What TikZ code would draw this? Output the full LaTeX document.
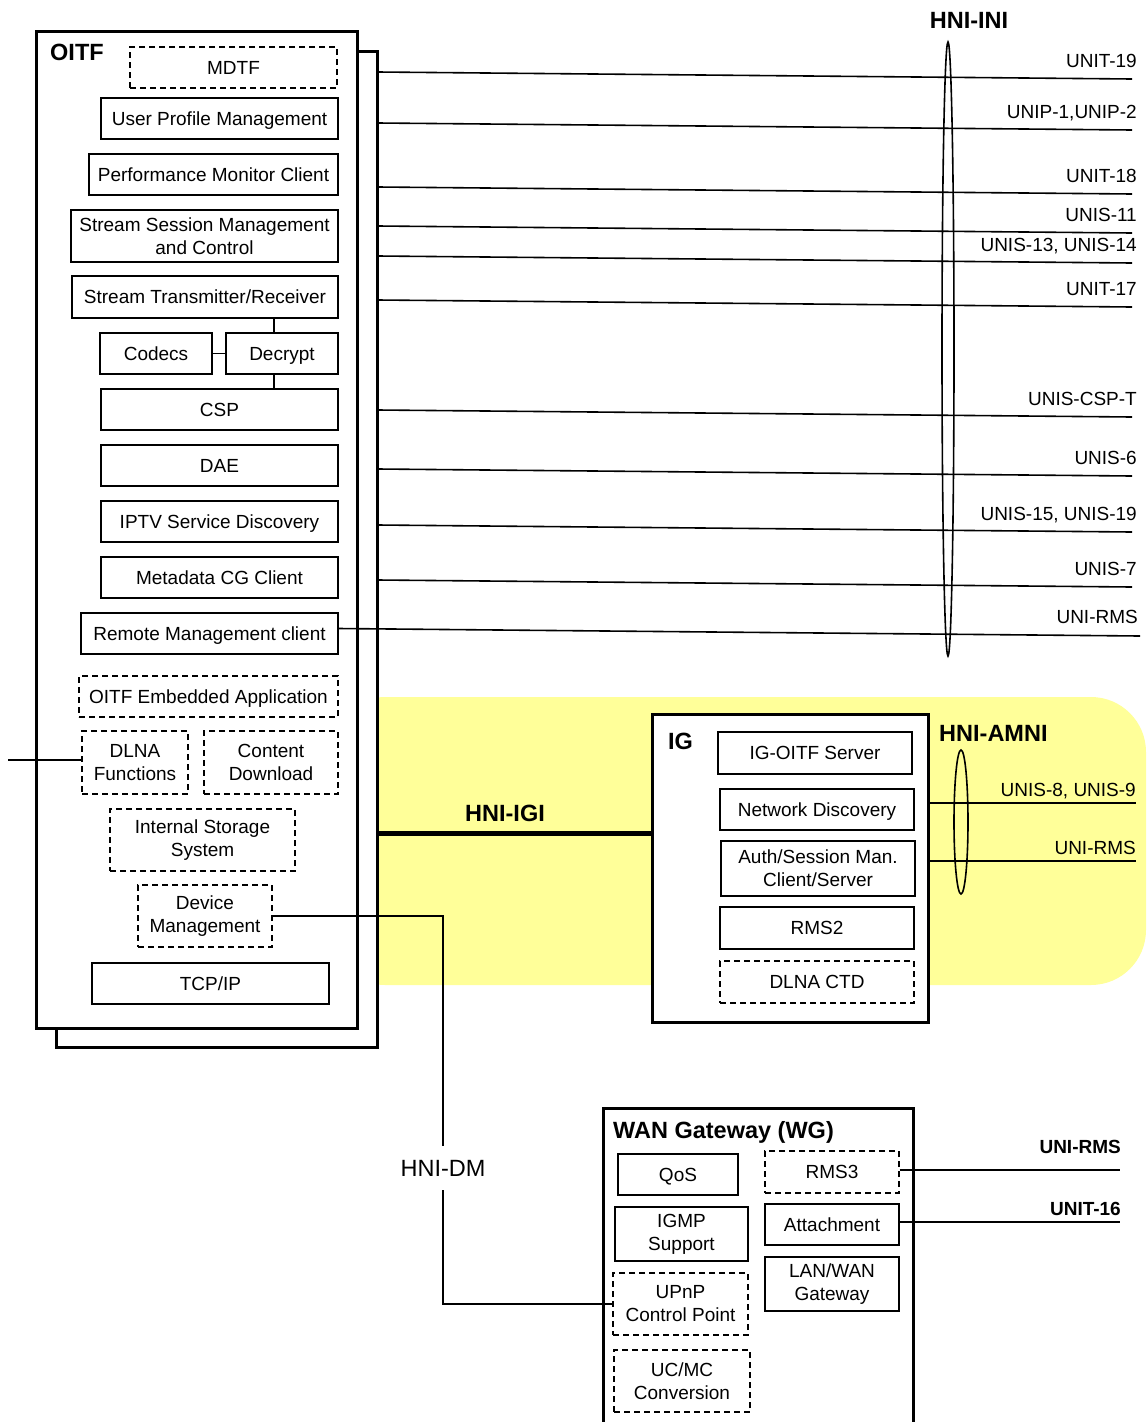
\documentclass[tikz,border=0pt]{standalone}
\usepackage{fontspec}
\setmainfont{Liberation Sans}
\usetikzlibrary{positioning, shapes.geometric}
\definecolor{hniyellow}{RGB}{255,255,153}

\begin{document}
\begin{tikzpicture}[x=1pt, y=-1pt,
    box/.style={draw, line width=1.2pt, fill=white, inner sep=0pt, align=center, font=\fontsize{19}{23}\selectfont,
        text height=13.6pt, text depth=0pt},
    dbox/.style={box, dash pattern=on 6pt off 4pt},
    ml/.style={text height={}, text depth={}},
    wh/.style 2 args={minimum width=#1pt, minimum height=#2pt},
    frame/.style={draw, line width=3pt, fill=white, inner sep=0pt},
    title/.style={inner sep=0pt, font=\fontsize{23.5}{28}\selectfont\bfseries},
    iface/.style={line width=1.6pt},
    ilabel/.style={inner sep=0pt, anchor=base east, font=\fontsize{19}{23}\selectfont}]
    \clip (0,0) rectangle (1148,1422);

    % Yellow home network area behind the IG
    \fill[hniyellow, rounded corners=55pt] (330,697) rectangle (1146,985);

    % OITF frames
    \node[frame, wh={321}{996}] (oitfb) at (216.5,549) {};
    \node[frame, wh={321}{997}] (oitf) at (196.5,529.5) {};
    \node[title, anchor=base west] (oitft) at (50,60) {OITF};

    % OITF functions
    \node[dbox, wh={207}{41}] (mdtf) at (233.5,67.5) {MDTF};
    \node[box, wh={237}{41}] (upm) at (219.5,118.5) {User Profile Management};
    \node[box, wh={249}{41}] (pmc) at (213.5,174.5) {Performance Monitor Client};
    \node[box, ml, wh={267}{52}] (ssm) at (204.5,236) {Stream Session Management\\and Control};
    \node[box, wh={266}{42}] (str) at (205,297) {Stream Transmitter/Receiver};
    \node[box, line width=1.8pt, wh={112}{41}] (cod) at (156,353.5) {Codecs};
    \node[box, line width=1.8pt, wh={112}{41}] (dec) at (282,353.5) {Decrypt};
    \node[box, wh={237}{41}] (csp) at (219.5,409.5) {CSP};
    \node[box, wh={237}{41}] (dae) at (219.5,465.5) {DAE};
    \node[box, wh={237}{41}] (iptv) at (219.5,521.5) {IPTV Service Discovery};
    \node[box, wh={237}{41}] (meta) at (219.5,577.5) {Metadata CG Client};
    \node[box, wh={257}{41}] (rmc) at (209.5,633.5) {Remote Management client};
    \node[dbox, wh={259}{41}] (oea) at (208.5,696.5) {OITF Embedded Application};
    \node[dbox, ml, wh={106}{63}] (dlna) at (135,762.5) {DLNA\\Functions};
    \node[dbox, ml, wh={134}{63}] (cdl) at (271,762.5) {Content\\Download};
    \node[dbox, ml, wh={185}{62}] (iss) at (202.5,840) {Internal Storage\\System};
    \node[dbox, ml, wh={134}{62}] (dm) at (205,916) {Device\\Management};
    \node[box, wh={237}{41}] (tcp) at (210.5,983.5) {TCP/IP};

    % Links inside the OITF
    \draw[line width=1.2pt] (cod) -- (dec);
    \draw[line width=1.2pt] ([xshift=-8pt]dec.north) -- ([xshift=-8pt]dec.north |- str.south);
    \draw[line width=1.2pt] ([xshift=-8pt]dec.south) -- ([xshift=-8pt]dec.south |- csp.north);
    \coordinate (dlnaext) at (8,760);
    \draw[line width=1.2pt] (dlnaext) -- (dlnaext -| dlna.west);

    % HNI-INI interfaces
    \foreach \y/\lab [count=\i] in {72/UNIT-19, 123/{UNIP-1,UNIP-2}, 187/UNIT-18, 226/UNIS-11,
        256/{UNIS-13, UNIS-14}, 300/UNIT-17, 410/UNIS-CSP-T, 469/UNIS-6,
        525/{UNIS-15, UNIS-19}, 580/UNIS-7} {
        \coordinate (u\i) at (378,\y);
        \coordinate (v\i) at (1132,\y+7);
        \draw[iface] (u\i) -- (v\i);
        \node[ilabel] (lab\i) at (1137,\y-5) {\lab};
    }
    \coordinate (v11) at (1140,636);
    \draw[iface] ([yshift=5pt]rmc.east) -- (v11);
    \node[ilabel] (lab11) at (1138,623) {UNI-RMS};
    \node[draw, ellipse, line width=1.6pt, inner sep=0pt, wh={12}{614}] (ini) at (948,349) {};
    \node[title, anchor=base] (init) at (969,28.5) {HNI-INI};

    % IG
    \node[frame, wh={276}{308}] (ig) at (790,868) {};
    \node[title, anchor=base west] (igt) at (668,749) {IG};
    \node[box, wh={194}{42}] (igo) at (815,753) {IG-OITF Server};
    \node[box, wh={194}{41}] (nd) at (817,809.5) {Network Discovery};
    \node[box, ml, wh={194}{55}] (auth) at (818,868.5) {Auth/Session Man.\\Client/Server};
    \node[box, wh={194}{42}] (rms2) at (817,928) {RMS2};
    \node[dbox, wh={194}{42}] (ctd) at (817,982) {DLNA CTD};

    % HNI-IGI
    \coordinate (igi) at (378,833);
    \draw[line width=5pt] (igi) -- (igi -| ig.west);
    \node[title, anchor=base] (igit) at (505,821.5) {HNI-IGI};

    % HNI-AMNI
    \coordinate (am1) at (1136,803);
    \coordinate (am2) at (1136,861);
    \draw[iface] (am1 -| ig.east) -- (am1);
    \draw[iface] (am2 -| ig.east) -- (am2);
    \node[ilabel] (amlab1) at (1136,796) {UNIS-8, UNIS-9};
    \node[ilabel] (amlab2) at (1136,854) {UNI-RMS};
    \node[draw, ellipse, line width=1.6pt, inner sep=0pt, wh={14}{144}] (amni) at (961,822) {};
    \node[title, anchor=base west] (amnit) at (939,741) {HNI-AMNI};

    % WAN Gateway
    \node[frame, wh={310}{332}] (wg) at (758,1274) {};
    \node[title, anchor=base west] (wgt) at (613,1138) {WAN Gateway (WG)};
    \node[box, wh={120}{41}] (qos) at (678,1174.5) {QoS};
    \node[box, ml, wh={133}{54}] (igmp) at (681.5,1234) {IGMP\\Support};
    \node[dbox, ml, wh={135}{62}] (upnp) at (680.5,1304) {UPnP\\Control Point};
    \node[dbox, ml, wh={136}{62}] (ucmc) at (682,1381) {UC/MC\\Conversion};
    \node[dbox, wh={134}{42}] (rms3) at (832,1172) {RMS3};
    \node[box, wh={134}{41}] (att) at (832,1224.5) {Attachment};
    \node[box, ml, wh={134}{54}] (lan) at (832,1284) {LAN/WAN\\Gateway};
    \coordinate (w1) at (1120,1170);
    \coordinate (w2) at (1120,1222);
    \draw[iface] (w1 -| rms3.east) -- (w1);
    \draw[iface] (w2 -| att.east) -- (w2);
    \node[ilabel, font=\fontsize{19}{23}\selectfont\bfseries] (wlab1) at (1121,1153) {UNI-RMS};
    \node[ilabel, font=\fontsize{19}{23}\selectfont\bfseries] (wlab2) at (1121,1215) {UNIT-16};

    % HNI-DM
    \node[inner xsep=2pt, inner ysep=14pt, font=\fontsize{23.5}{28}\selectfont] (hnidm) at (443,1168) {HNI-DM};
    \draw[line width=1.2pt] (dm.east) -| (hnidm.north);
    \draw[line width=1.2pt] (hnidm.south) |- (upnp.west);
\end{tikzpicture}
\end{document}
